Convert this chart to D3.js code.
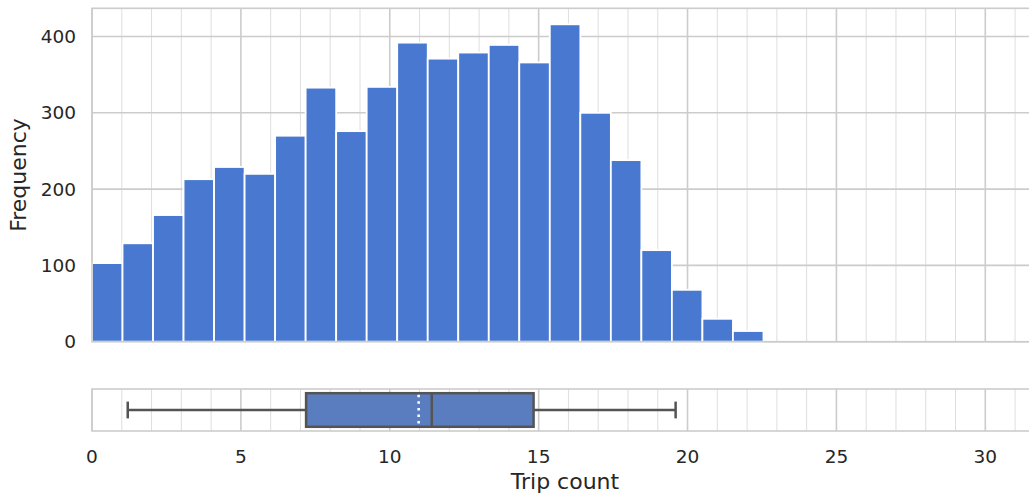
<!DOCTYPE html>
<html>
<head>
<meta charset="utf-8">
<script src="https://cdn.jsdelivr.net/npm/d3@7"></script>
<style>
body { margin: 0; background: #fff; }
svg { display: block; font-family: "DejaVu Sans", sans-serif; }
</style>
</head>
<body>
<svg id="canvas" width="1029" height="495"></svg>
<script>
// histogram: 22 equal bins between binMin and binMax
var counts = [103, 129, 166, 213, 229, 220, 270, 333, 276, 334, 392, 371, 379, 389, 366, 416, 300, 238, 120, 68, 30, 14];
var binMin = 0, binMax = 22.55;

var yTicks = [0, 100, 200, 300, 400];
var xTicks = [0, 5, 10, 15, 20, 25, 30];
var xMinorTicks = [1, 2, 3, 4, 6, 7, 8, 9, 11, 12, 13, 14, 16, 17, 18, 19, 21, 22, 23, 24, 26, 27, 28, 29, 31];

// boxplot summary of trip counts
var whiskers = [1.2, 19.6];
var quartiles = [7.19, 14.83];
var median = 11.41;
var mean = 10.97;

var svg = d3.select("#canvas");

var left = 92, right = 1038;
var histTop = 8.3, histBottom = 341.7;
var boxTop = 389, boxBottom = 431;

var x = d3.scaleLinear().domain([0, 31.77]).range([left, right]);
var y = d3.scaleLinear().domain([0, 437]).range([histBottom, histTop]);
var yb = d3.scaleLinear().domain([-0.5, 0.5]).range([boxBottom, boxTop]);

function vgrid(g, top, bottom) {
    g.selectAll("line.minor").data(xMinorTicks).enter().append("line")
        .attr("x1", d => x(d)).attr("x2", d => x(d))
        .attr("y1", top).attr("y2", bottom)
        .attr("stroke", "#dedede").attr("stroke-width", 1);
    g.selectAll("line.major").data(xTicks).enter().append("line")
        .attr("x1", d => x(d)).attr("x2", d => x(d))
        .attr("y1", top).attr("y2", bottom)
        .attr("stroke", "#cccccc").attr("stroke-width", 1.6);
}

// top: histogram
var hist = svg.append("g");
vgrid(hist.append("g"), histTop, histBottom);
hist.append("g").selectAll("line").data(yTicks).enter().append("line")
    .attr("x1", left).attr("x2", right)
    .attr("y1", d => y(d)).attr("y2", d => y(d))
    .attr("stroke", "#cccccc").attr("stroke-width", 1.6);

var binW = (binMax - binMin) / counts.length;
hist.append("g").selectAll("rect").data(counts).enter().append("rect")
    .attr("x", (d, i) => x(binMin + i * binW))
    .attr("width", (d, i) => x(binMin + (i + 1) * binW) - x(binMin + i * binW))
    .attr("y", d => y(d))
    .attr("height", d => y(0) - y(d))
    .attr("fill", "#4878d0")
    .attr("stroke", "#ffffff")
    .attr("stroke-width", 1.8);

hist.append("rect")
    .attr("x", left).attr("y", histTop)
    .attr("width", right - left).attr("height", histBottom - histTop)
    .attr("fill", "none").attr("stroke", "#cccccc").attr("stroke-width", 1.6);

hist.append("g").selectAll("text").data(yTicks).enter().append("text")
    .attr("x", 76).attr("y", d => y(d))
    .attr("dy", "0.36em")
    .attr("text-anchor", "end")
    .attr("font-size", 18.5).attr("fill", "#262626")
    .text(d => d);

svg.append("text")
    .attr("transform", "translate(26," + (histTop + histBottom) / 2 + ") rotate(-90)")
    .attr("text-anchor", "middle")
    .attr("font-size", 22).attr("fill", "#262626")
    .text("Frequency");

// bottom: boxplot
var box = svg.append("g");
vgrid(box.append("g"), boxTop, boxBottom);

var lineCol = "#545454", lw = 2.5;
box.append("line")
    .attr("x1", x(whiskers[0])).attr("x2", x(quartiles[0]))
    .attr("y1", yb(0)).attr("y2", yb(0))
    .attr("stroke", lineCol).attr("stroke-width", lw);
box.append("line")
    .attr("x1", x(quartiles[1])).attr("x2", x(whiskers[1]))
    .attr("y1", yb(0)).attr("y2", yb(0))
    .attr("stroke", lineCol).attr("stroke-width", lw);
box.selectAll("line.cap").data(whiskers).enter().append("line")
    .attr("x1", d => x(d)).attr("x2", d => x(d))
    .attr("y1", yb(-0.2)).attr("y2", yb(0.2))
    .attr("stroke", lineCol).attr("stroke-width", lw);
box.append("rect")
    .attr("x", x(quartiles[0])).attr("width", x(quartiles[1]) - x(quartiles[0]))
    .attr("y", yb(0.4)).attr("height", yb(-0.4) - yb(0.4))
    .attr("fill", "#597dbf").attr("stroke", lineCol).attr("stroke-width", lw);
box.append("line")
    .attr("x1", x(median)).attr("x2", x(median))
    .attr("y1", yb(0.4)).attr("y2", yb(-0.4))
    .attr("stroke", lineCol).attr("stroke-width", lw);
box.append("line")
    .attr("x1", x(mean)).attr("x2", x(mean))
    .attr("y1", yb(0.4) + 1.5).attr("y2", yb(-0.4) - 1.5)
    .attr("stroke", "#ffffff").attr("stroke-width", lw)
    .attr("stroke-dasharray", "2.5,4.1");

box.append("rect")
    .attr("x", left).attr("y", boxTop)
    .attr("width", right - left).attr("height", boxBottom - boxTop)
    .attr("fill", "none").attr("stroke", "#cccccc").attr("stroke-width", 1.6);

box.append("g").selectAll("text").data(xTicks).enter().append("text")
    .attr("x", d => x(d)).attr("y", 463)
    .attr("text-anchor", "middle")
    .attr("font-size", 18.5).attr("fill", "#262626")
    .text(d => d);

svg.append("text")
    .attr("x", (left + right) / 2).attr("y", 489)
    .attr("text-anchor", "middle")
    .attr("font-size", 22).attr("fill", "#262626")
    .text("Trip count");
</script>
</body>
</html>
